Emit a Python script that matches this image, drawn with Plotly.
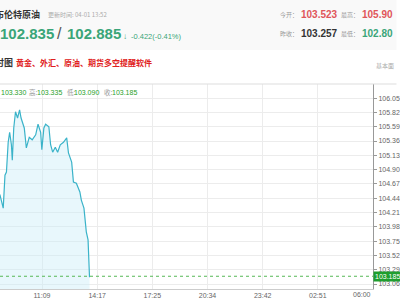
import plotly.graph_objects as go
from datetime import datetime, timedelta

# ---- data ----
times = ["2022-03-31 08:00", "2022-03-31 08:45", "2022-03-31 08:56", "2022-03-31 09:02",
         "2022-03-31 09:07", "2022-03-31 09:13", "2022-03-31 09:18", "2022-03-31 09:24",
         "2022-03-31 09:27", "2022-03-31 09:32", "2022-03-31 09:38", "2022-03-31 09:45",
         "2022-03-31 09:52", "2022-03-31 09:57", "2022-03-31 10:08", "2022-03-31 10:15",
         "2022-03-31 10:25", "2022-03-31 10:35", "2022-03-31 10:47", "2022-03-31 10:55",
         "2022-03-31 11:04", "2022-03-31 11:08", "2022-03-31 11:15", "2022-03-31 11:21",
         "2022-03-31 11:32", "2022-03-31 11:38", "2022-03-31 11:45", "2022-03-31 11:54",
         "2022-03-31 12:02", "2022-03-31 12:11", "2022-03-31 12:22", "2022-03-31 12:33",
         "2022-03-31 12:39", "2022-03-31 12:50", "2022-03-31 12:56", "2022-03-31 13:06",
         "2022-03-31 13:18", "2022-03-31 13:23", "2022-03-31 13:32", "2022-03-31 13:37",
         "2022-03-31 13:40", "2022-03-31 13:46", "2022-03-31 13:49", "2022-03-31 13:51"]
prices = [104.40, 104.49, 104.28, 104.81,
          104.86, 105.34, 105.50, 105.30,
          105.05, 105.57, 105.83, 105.73,
          105.86, 105.73, 105.57, 105.25,
          105.42, 105.38, 105.46, 105.63,
          105.50, 105.22, 105.57, 105.63,
          105.59, 105.30, 105.18, 105.26,
          105.18, 105.30, 105.34, 105.41,
          105.17, 105.02, 104.70, 104.68,
          104.54, 104.41, 104.28, 104.09,
          103.90, 103.77, 103.41, 103.17]
last_price = 103.185
y_ticks = [103.06, 103.29, 103.52, 103.75, 103.98, 104.21, 104.44, 104.67,
           104.90, 105.13, 105.36, 105.59, 105.82, 106.05]
x_tick_labels = ["08:00", "11:09", "14:17", "17:25", "20:34", "23:42", "02:51", "06:00"]

start = datetime(2022, 3, 31, 8, 0)
x_tick_vals = [start + timedelta(hours=22 * k / 7) for k in range(8)]

W, H = 400, 300
L, R, T, B = 0, 381, 84, 289
CJK = "Noto Sans CJK SC, sans-serif"
NUM = "Liberation Sans, Arial, sans-serif"


def px(x):
    return (x - L) / (R - L)


def py(y):
    return (B - y) / (B - T)


fig = go.Figure()
fig.add_trace(go.Scatter(
    x=times, y=prices, mode="lines",
    line=dict(color="#3ab3c9", width=1.2),
    fill="tozeroy", fillcolor="rgba(205,238,248,0.45)",
    hoverinfo="skip", showlegend=False))

shapes = [
    dict(type="rect", xref="paper", yref="paper", x0=px(-5), x1=px(405), y0=py(0), y1=py(50),
         fillcolor="#f9f9f9", line=dict(width=0), layer="below"),
    dict(type="line", xref="paper", yref="paper", x0=px(-5), x1=px(405), y0=py(84), y1=py(84),
         line=dict(color="#dddddd", width=1)),
    dict(type="line", xref="paper", yref="y", x0=0, x1=1, y0=last_price, y1=last_price,
         line=dict(color="#55b855", width=1, dash="dot")),
]

ann = []


def add(text, x, y, size, color, font=CJK, xanchor="left", bold=False):
    ann.append(dict(text=("<b>%s</b>" % text) if bold else text, xref="paper", yref="paper",
                    x=px(x), y=py(y), xanchor=xanchor, yanchor="middle", showarrow=False,
                    font=dict(size=size, color=color, family=font)))


add("布伦特原油", -7, 15, 9, "#333333", bold=True)
add("更新时间: 04-01 13:52", 47, 15, 6, "#aaaaaa")
add("102.835", -2, 33, 15, "#3aa578", font=NUM, bold=True)
add("/", 56, 33, 16, "#555555", font=NUM)
add("102.885", 66, 33, 15, "#3aa578", font=NUM, bold=True)
add("↓", 124, 36, 8, "#3aa578", font=NUM)
add("-0.422(-0.41%)", 132, 36, 7.5, "#3aa578", font=NUM)
add("今开：", 284, 15, 6, "#999999")
add("103.523", 305, 15, 10, "#e0555a", font=NUM, bold=True)
add("最高：", 346, 15, 6, "#999999")
add("105.90", 368, 15, 10, "#e0555a", font=NUM, bold=True)
add("昨收：", 284, 33, 6, "#999999")
add("103.257", 305, 33, 10, "#333333", font=NUM, bold=True)
add("最低：", 346, 33, 6, "#999999")
add("102.80", 368, 33, 10, "#3aa578", font=NUM, bold=True)
add("分时图", -16, 63, 9, "#333333", bold=True)
add("黄金、外汇、原油、期货多空提醒软件", 14, 63, 8, "#e02020", bold=True)
add("基本面", 382, 66, 6, "#aaaaaa")
add("103.330", -1, 92, 7, "#2aa12a", font=NUM)
add("高:", 28, 92, 6.5, "#999999")
add("103.335", 36, 92, 7, "#2aa12a", font=NUM)
add("低:", 66, 92, 6.5, "#999999")
add("103.090", 74, 92, 7, "#2aa12a", font=NUM)
add("收:", 104, 92, 6.5, "#999999")
add("103.185", 112, 92, 7, "#2aa12a", font=NUM)
add("06:00", 381, 294, 7, "#666666", font=NUM, xanchor="right")

ann.append(dict(text="103.185", xref="paper", yref="y", x=1, y=last_price,
                xanchor="left", yanchor="middle", showarrow=False,
                bgcolor="#1e9e2e", borderpad=1,
                font=dict(size=7, color="white", family=NUM)))

fig.update_layout(
    width=W, height=H,
    margin=dict(l=L, r=W - R, t=T, b=H - B),
    paper_bgcolor="white", plot_bgcolor="white",
    shapes=shapes, annotations=ann,
    xaxis=dict(range=["2022-03-31 08:45", "2022-04-01 06:00"],
               tickvals=x_tick_vals, ticktext=x_tick_labels[:-1] + [""],
               showgrid=True, gridcolor="#ececec", gridwidth=1,
               showline=True, linecolor="#cccccc", linewidth=1,
               ticks="", tickfont=dict(size=7, color="#666666", family=NUM),
               fixedrange=True, zeroline=False),
    yaxis=dict(range=[102.98, 106.277], side="right", tickvals=y_ticks,
               ticktext=["%.2f" % v for v in y_ticks],
               showgrid=True, gridcolor="#ececec", gridwidth=1,
               showline=True, linecolor="#999999", linewidth=1,
               ticks="outside", ticklen=3, tickcolor="#999999",
               tickfont=dict(size=7, color="#666666", family=NUM),
               zeroline=False, fixedrange=True),
)

fig.write_html("out.html", config={"displayModeBar": False})
